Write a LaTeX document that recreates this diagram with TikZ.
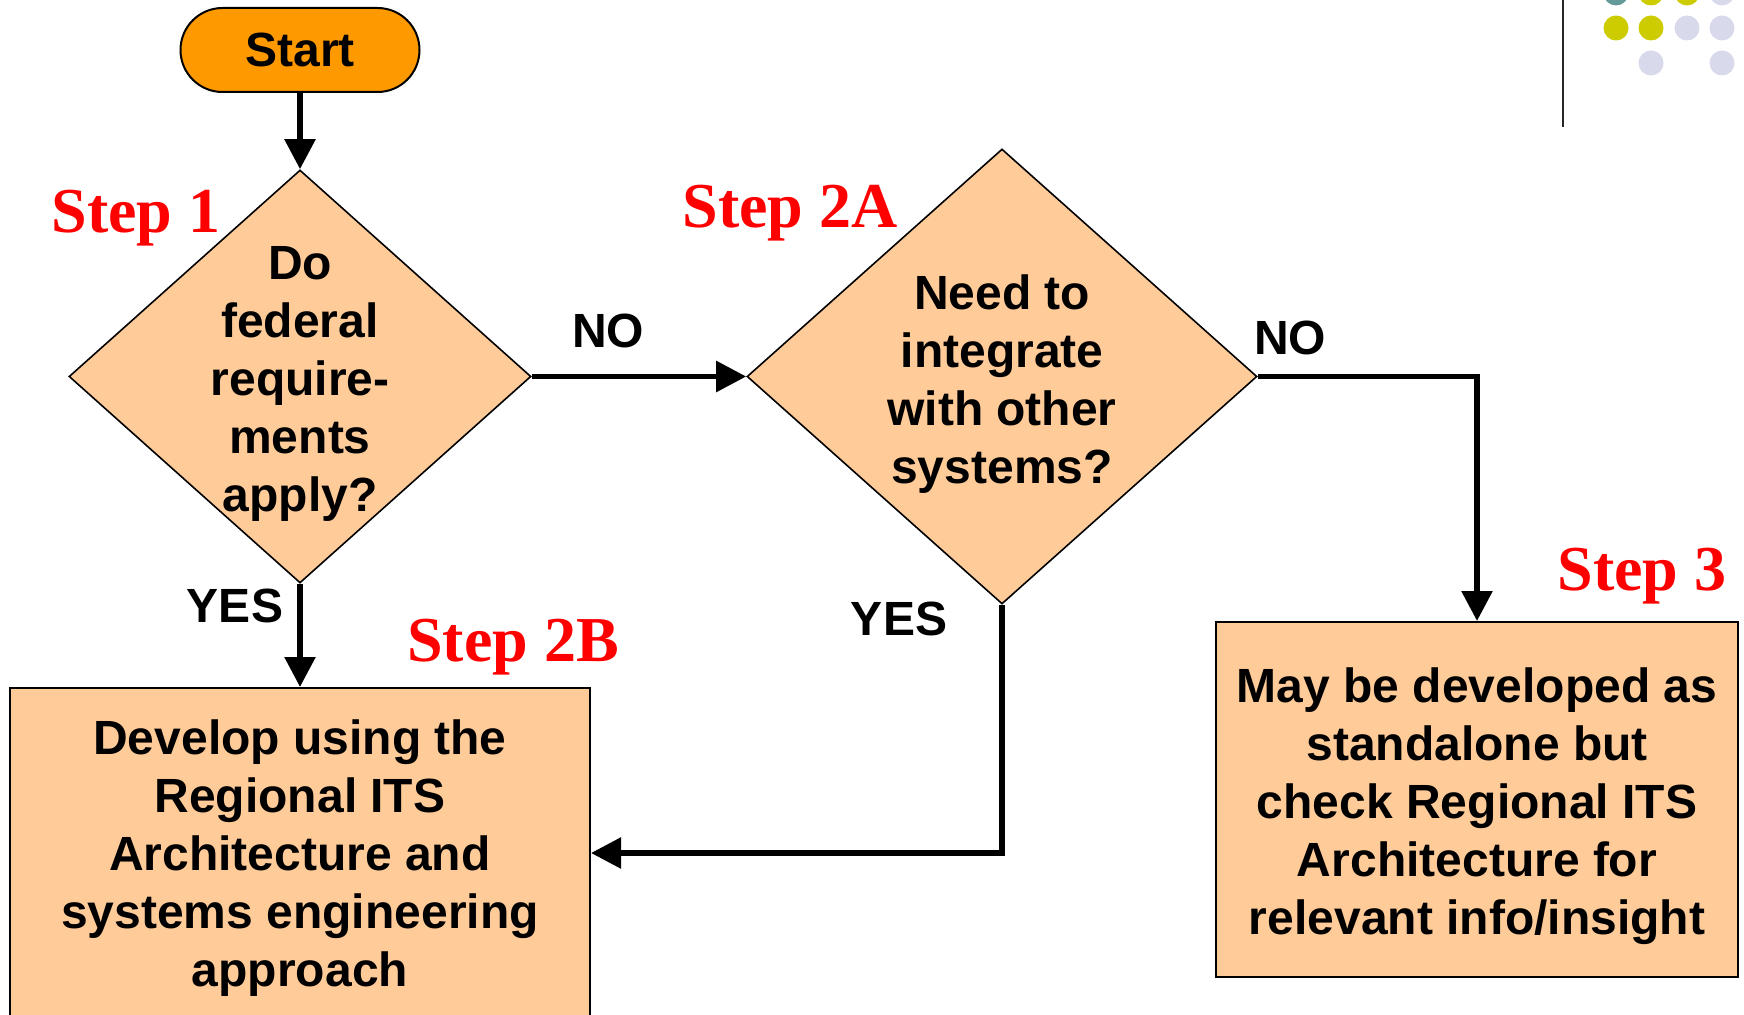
\documentclass[tikz,border=0pt]{standalone}
\usepackage{fontspec}
\setmainfont{Liberation Sans}
\newfontfamily\stepfont{Liberation Serif}
\usetikzlibrary{shapes.geometric,arrows.meta}
\definecolor{startorange}{HTML}{FF9900}
\definecolor{peach}{HTML}{FFCC99}
\definecolor{dotyellow}{HTML}{CCCC00}
\definecolor{dotlav}{HTML}{D9D9EC}
\definecolor{dotteal}{HTML}{669999}
\definecolor{stepred}{HTML}{FF0000}
\begin{document}
\begin{tikzpicture}[x=0.5pt,y=-0.5pt,
  body/.style={font=\fontsize{24pt}{29pt}\selectfont\bfseries, align=center},
  decision/.style={diamond, draw=black, line width=0.8pt, fill=peach, inner sep=0pt},
  procbox/.style={rectangle, draw=black, line width=1pt, fill=peach, inner sep=0pt},
  conn/.style={line width=2.8pt, line join=miter, -{Triangle[length=15pt,width=15pt]}},
  steplabel/.style={font=\stepfont\fontsize{32pt}{36pt}\selectfont\bfseries, text=stepred, anchor=base},
  answer/.style={body, inner sep=0pt},
  dot/.style={radius=6.25pt}
]
\useasboundingbox (0,0) rectangle (1744,1015);
\fill[white] (0,0) rectangle (1744,1015);

% top-right decoration
\draw[line width=1.2pt, black!85] (1563,0) -- (1563,127);
\fill[dotteal]   (1616,-7) circle[dot];
\fill[dotyellow] (1651,-7) circle[dot];
\fill[dotyellow] (1687,-7) circle[dot];
\fill[dotlav]    (1722,-7) circle[dot];
\fill[dotyellow] (1616,28) circle[dot];
\fill[dotyellow] (1651,28) circle[dot];
\fill[dotlav]    (1687,28) circle[dot];
\fill[dotlav]    (1722,28) circle[dot];
\fill[dotlav]    (1651,63) circle[dot];
\fill[dotlav]    (1722,63) circle[dot];

% nodes
\node[draw=black, line width=1pt, fill=startorange, rounded corners=21pt,
      minimum width=119.5pt, minimum height=42pt, inner sep=0pt, body] (start) at (300,50) {Start};
\node[decision, minimum width=231pt, minimum height=206.5pt] (d1) at (300,376.5) {};
\node[body] (d1t) at (300,384) {Do\\federal\\require-\\ments\\apply?};
\node[decision, minimum width=255pt, minimum height=227.5pt] (d2) at (1002,376.5) {};
\node[body] (d2t) at (1002,384) {Need to\\integrate\\with other\\systems?};
\node[procbox, minimum width=290pt, minimum height=165pt] (b2) at (300,853) {};
\node[body] (b2t) at (300,858)
  {Develop using the\\Regional ITS\\Architecture and\\systems engineering\\approach};
\node[procbox, minimum width=261pt, minimum height=177.5pt] (b3) at (1477,799.5) {};
\node[body] (b3t) at (1477,806)
  {May be developed as\\standalone but\\check Regional ITS\\Architecture for\\relevant info/insight};

% answers
\node[answer] (no1) at (608,331) {NO};
\node[answer] (no2) at (1290,338) {NO};
\node[answer] (yes1) at (235,606) {YES};
\node[answer] (yes2) at (899,619) {YES};

% steps
\node[steplabel] (s1) at (136,233) {Step 1};
\node[steplabel] (s2a) at (790,228) {Step 2A};
\node[steplabel] (s2b) at (513,661) {Step 2B};
\node[steplabel] (s3) at (1642,590) {Step 3};

% connectors
\draw[conn] (start.south) -- (d1.north);
\draw[conn] (d1.south) -- (b2.north);
\draw[conn] (d1.east) -- (d2.west);
\draw[conn] (d2.east) -| (b3.north);
\draw[conn] (d2.south) |- (b2.east);
\end{tikzpicture}
\end{document}
